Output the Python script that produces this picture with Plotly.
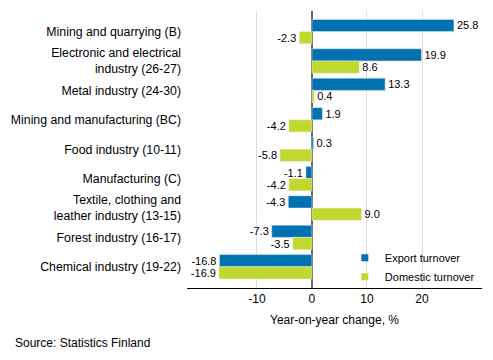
import plotly.graph_objects as go

categories = [
    "Mining and quarrying (B)",
    "Electronic and electrical<br>industry (26-27)",
    "Metal industry (24-30)",
    "Mining and manufacturing (BC)",
    "Food industry (10-11)",
    "Manufacturing (C)",
    "Textile, clothing and<br>leather industry (13-15)",
    "Forest industry (16-17)",
    "Chemical industry (19-22)",
]
export_turnover = [25.8, 19.9, 13.3, 1.9, 0.3, -1.1, -4.3, -7.3, -16.8]
domestic_turnover = [-2.3, 8.6, 0.4, -4.2, -5.8, -4.2, 9.0, -3.5, -16.9]
series_names = ["Export turnover", "Domestic turnover"]
x_ticks = [-10, 0, 10, 20]

FONT = "Liberation Sans, Arial, sans-serif"
BLUE = "#0072B0"
LIME = "#C2D82E"

fig = go.Figure()
for name, vals, col in [(series_names[0], export_turnover, BLUE),
                        (series_names[1], domestic_turnover, LIME)]:
    fig.add_trace(go.Bar(
        y=categories, x=vals, orientation="h", name=name, showlegend=False,
        marker=dict(color=col), texttemplate="%{x:.1f}", textposition="outside",
        textfont=dict(size=11, color="#000", family=FONT), cliponaxis=False,
    ))
    # legend entry with a small square symbol like the reference
    fig.add_trace(go.Scatter(
        x=[None], y=[None], mode="markers", name=name,
        marker=dict(symbol="square", size=7, color=col), showlegend=True,
    ))

fig.update_layout(
    width=493, height=360,
    margin=dict(l=187, r=11, t=11, b=72, autoexpand=False),
    paper_bgcolor="white", plot_bgcolor="white",
    font=dict(family=FONT, size=12, color="#000"),
    barmode="group", bargap=0.17, bargroupgap=0,
    legend=dict(x=0.535, y=0.075, xanchor="left", yanchor="middle",
                bgcolor="rgba(0,0,0,0)", font=dict(size=11, color="#000"),
                traceorder="normal", itemwidth=30),
    xaxis=dict(
        range=[-22.7, 30.9], tickvals=x_ticks, ticktext=[str(v) for v in x_ticks],
        showgrid=True, gridcolor="#dcdcdc", gridwidth=1,
        zeroline=True, zerolinecolor="#666666", zerolinewidth=2,
        showline=True, linecolor="#000", linewidth=1, ticks="",
        title=dict(text="Year-on-year change, %", standoff=10, font=dict(size=12)),
        tickfont=dict(size=12),
    ),
    yaxis=dict(
        range=[8.72, -0.70], showgrid=False, zeroline=False, showline=False,
        ticks="", tickfont=dict(size=12.3), ticklabelstandoff=5,
    ),
    annotations=[dict(
        text="Source: Statistics Finland", xref="paper", yref="paper",
        x=-0.59, y=-0.199, xanchor="left", yanchor="middle", showarrow=False,
        font=dict(size=12, color="#000"),
    )],
)

fig.write_html("out.html", config={"displayModeBar": False},
               post_script="document.body.style.margin='0';")
